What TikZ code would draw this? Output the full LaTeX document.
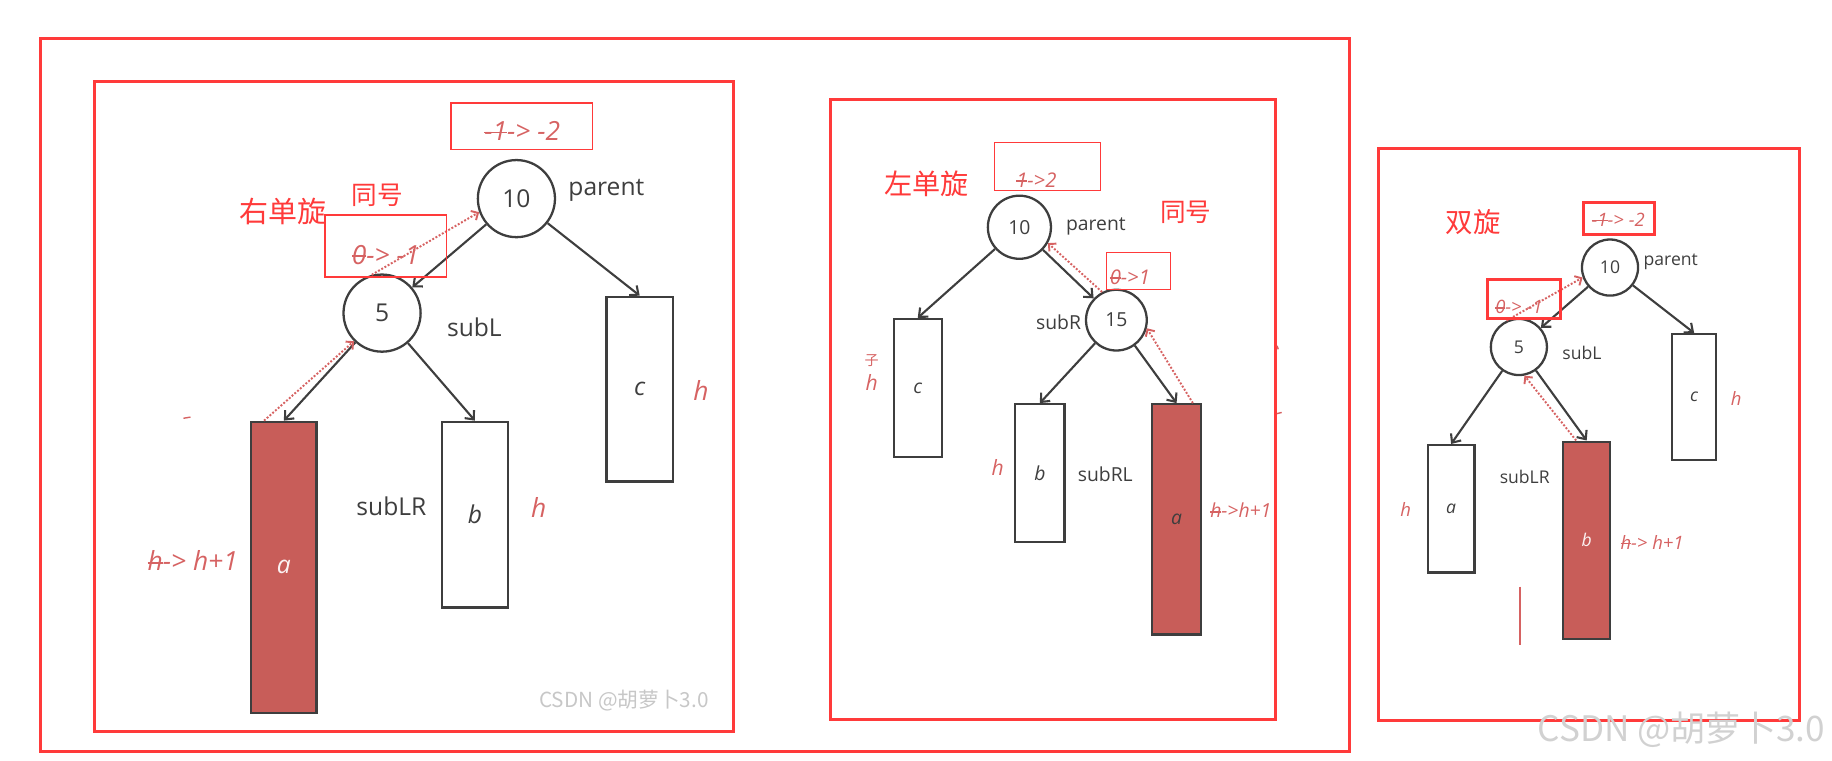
\documentclass[tikz,border=0pt]{standalone}
\usepackage{fontspec}
\setmainfont{Open Sans}
\newfontfamily\cjk{Noto Sans CJK SC}
\usetikzlibrary{arrows.meta}
\definecolor{framered}{RGB}{255,58,58}
\definecolor{notered}{RGB}{214,98,98}
\definecolor{hotred}{RGB}{200,93,89}
\definecolor{inkgray}{RGB}{62,62,62}
\newcommand{\pxu}{0.2337mm}
\newcommand{\struck}[1]{\setbox0\hbox{#1}\rlap{\rule[0.5ex]{\wd0}{0.9pt}}\box0}

\begin{document}
\begin{tikzpicture}[x=\pxu, y=-\pxu,
	frame/.style={draw=framered, line width=1.7pt},
	notebox/.style={draw=framered, line width=0.8pt, inner sep=0pt},
	treenode/.style={circle, draw=inkgray, line width=1.3pt, inner sep=0pt},
	subtree/.style={rectangle, draw=inkgray, line width=1.3pt, inner sep=0pt},
	grown/.style={subtree, fill=hotred},
	dia/.style={minimum size=#1*\pxu},
	dims/.style 2 args={minimum width=#1*\pxu, minimum height=#2*\pxu},
	link/.style={draw=inkgray, line width=1.2pt, -{Straight Barb[length=4pt,width=7pt]}},
	trace/.style={draw=notered, densely dotted, line width=1.1pt, -{Straight Barb[length=3pt,width=6pt]}},
	note/.style={text=notered, font=\fontsize{#1}{#1}\selectfont\itshape},
	tag/.style={text=inkgray, font=\fontsize{#1}{#1}\selectfont},
	title/.style={text=framered, font=\fontsize{#1}{#1}\selectfont\cjk},
	wmark/.style={text=black!22, font=\fontsize{#1}{#1}\selectfont\cjk}]
	\useasboundingbox (0,0) rectangle (1568,651);
	\draw[frame] (35,33) rectangle (1155,643);
	%右单旋
	\draw[frame] (81,70) rectangle (628,626);
	\node (p1parent) [treenode, dia=66, tag=14] at (442,170) {10};
	\node (p1subL) [treenode, dia=66, tag=14] at (327,268) {5};
	\node (p1a) [grown, dims={56}{249}, tag=14, text=white!92!hotred] at (243,485.5) {\itshape a};
	\node (p1b) [subtree, dims={57}{159}, tag=14] at (406.5,440.5) {\itshape b};
	\node (p1c) [subtree, dims={57}{158}, tag=14] at (547.5,333) {\itshape c};
	\draw[link] (p1parent) -- (p1subL);
	\draw[link] (p1parent) -- (p1c.north);
	\draw[link] (p1subL) -- (p1a.north);
	\draw[link] (p1subL) -- (p1b.north);
	\draw[trace] ([xshift=12*\pxu]p1a.north west) -- (p1subL.-135);
	\draw[trace] (p1subL.105) -- (p1parent.200);
	\node (p1parentTag) [tag=14] at (519,163) {parent};
	\node (p1subLTag) [tag=14] at (406,280) {subL};
	\node (p1subLRTag) [tag=14] at (335,433) {subLR};
	\node (p1bfBox) [notebox, dims={121}{40}] at (446.5,108) {};
	\node (p1bf) [note=15] at (447,112) {\struck{-1} -> -2};
	\node (p1subBox) [notebox, dims={104}{53}] at (330,210.5) {};
	\node (p1subBf) [note=15] at (330,218) {\struck{0} -> -1};
	\node (p1ha) [note=15] at (165,480) {\struck{h} -> h+1};
	\node (p1hb) [note=15] at (461,434) {h};
	\node (p1hc) [note=15] at (600,334) {h};
	\node (p1rot) [title=16.5] at (242,181) {右单旋};
	\node (p1same) [title=14.6] at (323,167) {同号};
	\node (p1mark) [wmark=11.8] at (534,600) {CSDN @胡萝卜3.0};
	\draw[notered, line width=0.8pt] (157,358) -- (163,357);
	%左单旋
	\draw[frame] (711,85) rectangle (1092,616);
	\node (p2parent) [treenode, dia=54, tag=11] at (872.5,194.5) {10};
	\node (p2subR) [treenode, dia=52, tag=11] at (955.5,274) {15};
	\node (p2c) [subtree, dims={41}{118}, tag=11] at (785.5,332) {\itshape c};
	\node (p2b) [subtree, dims={42}{118}, tag=11] at (890,405) {\itshape b};
	\node (p2a) [grown, dims={42}{197}, tag=11] at (1007,444.5) {\itshape a};
	\draw[link] (p2parent) -- (p2c.north);
	\draw[link] (p2parent) -- (p2subR);
	\draw[link] (p2subR) -- (p2b.north);
	\draw[link] (p2subR) -- (p2a.north);
	\draw[trace] ([xshift=-8*\pxu]p2a.north east) -- (p2subR.-15);
	\draw[trace] (p2subR.117) -- (p2parent.-29);
	\node (p2parentTag) [tag=11] at (938,194) {parent};
	\node (p2subRTag) [tag=11] at (906,276) {subR};
	\node (p2subRLTag) [tag=11] at (946,406) {subRL};
	\node (p2bfBox) [notebox, dims={91}{41}] at (896.5,142.5) {};
	\node (p2bf) [note=11.5] at (887,154) {\struck{1}->2};
	\node (p2subBox) [notebox, dims={55}{32}] at (974.5,232) {};
	\node (p2subBf) [note=11.5] at (967,237) {\struck{0}->1};
	\node (p2cut) [note=8, font=\fontsize{8}{8}\selectfont\cjk] at (746,309) {子};
	\node (p2hc) [note=12] at (746,327) {h};
	\node (p2hb) [note=12] at (854,400) {h};
	\node (p2ha) [note=11] at (1062,437) {\struck{h}->h+1};
	\node (p2rot) [title=16] at (793,157) {左单旋};
	\node (p2same) [title=14.6] at (1015,182) {同号};
	\draw[notered, line width=0.8pt] (1093,296) -- (1094,299);
	\draw[notered, line width=0.8pt] (1093,354) -- (1097,353);
	%双旋
	\draw[frame] (1180,127) rectangle (1540,617);
	\node (p3parent) [treenode, dia=48, tag=10] at (1378,229) {10};
	\node (p3subL) [treenode, dia=48, tag=10] at (1300,297) {5};
	\node (p3c) [subtree, dims={38}{108}, tag=10] at (1450,340) {\itshape c};
	\node (p3a) [subtree, dims={40}{109}, tag=10] at (1242,435.5) {\itshape a};
	\node (p3b) [grown, dims={40}{169}, tag=10, text=white!92!hotred] at (1358,462.5) {\itshape b};
	\draw[link] (p3parent) -- (p3subL);
	\draw[link] (p3parent) -- (p3c.north);
	\draw[link] (p3subL) -- (p3a.north);
	\draw[link] (p3subL) -- (p3b.north);
	\draw[trace] ([xshift=12*\pxu]p3b.north west) -- (p3subL.-79);
	\draw[trace] (p3subL.115) -- (p3parent.200);
	\node (p3parentTag) [tag=10] at (1430,224) {parent};
	\node (p3subLTag) [tag=10] at (1354,302) {subL};
	\node (p3subLRTag) [tag=10] at (1305,408) {subLR};
	\node (p3bfBox) [notebox, line width=1.7pt, dims={61}{28}] at (1385.5,187) {};
	\node (p3bf) [note=10.5] at (1385,188) {\struck{-1} -> -2};
	\node (p3subBox) [notebox, line width=1.7pt, dims={63}{34}] at (1304.5,256) {};
	\node (p3subBf) [note=10.5] at (1300,263) {\struck{0} -> -1};
	\node (p3hc) [note=10.5] at (1486,341) {h};
	\node (p3ha) [note=10.5] at (1203,436) {h};
	\node (p3hb) [note=10.5] at (1414,464) {\struck{h} -> h+1};
	\draw[notered, line width=1.3pt] (1301,502) -- (1301,552);
	\node (p3rot) [title=15.6] at (1261,190) {双旋};
	\node (p3mark) [wmark=20, text=black!18] at (1439,625) {CSDN @胡萝卜3.0};
\end{tikzpicture}
\end{document}
